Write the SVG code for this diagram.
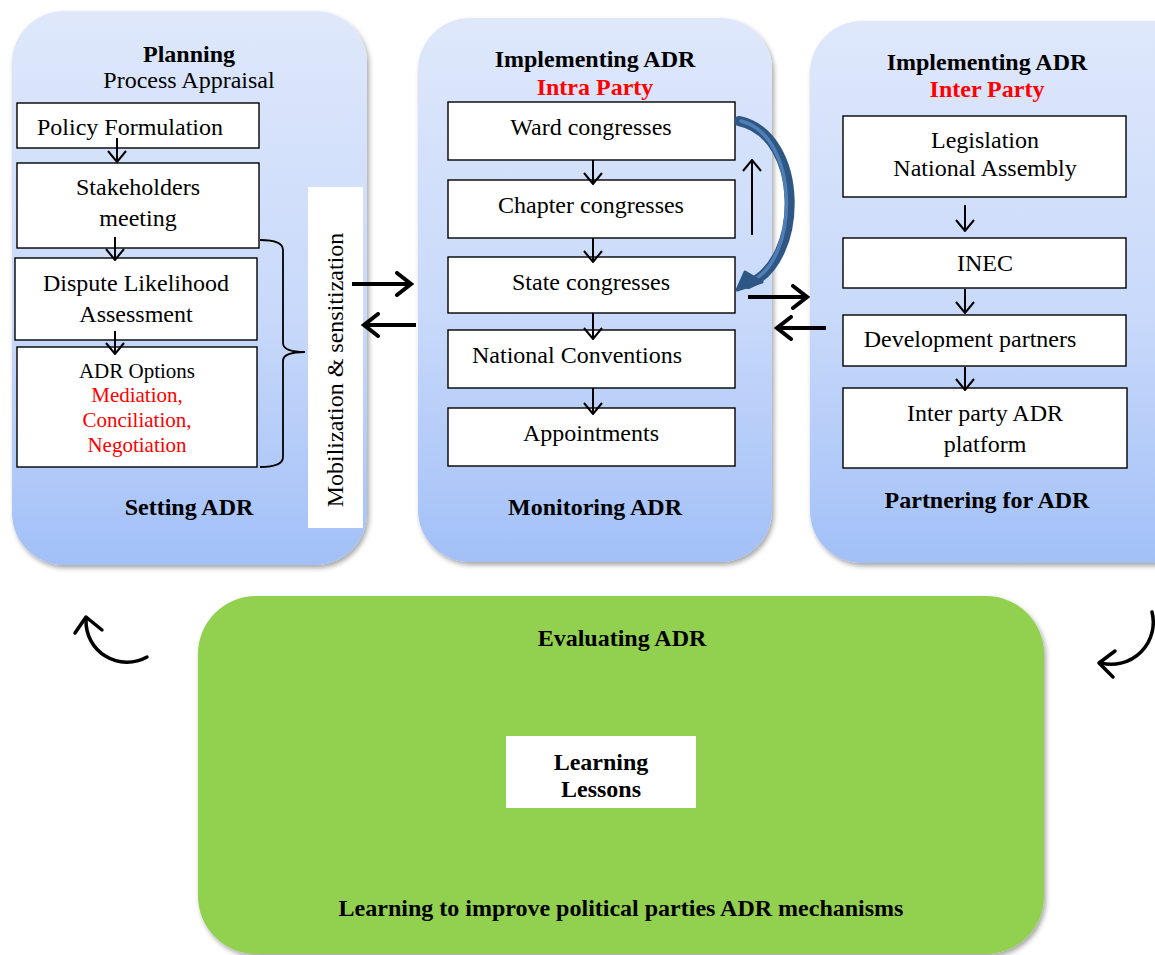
<svg xmlns="http://www.w3.org/2000/svg" width="1155" height="955" viewBox="0 0 1155 955">
  <defs>
    <linearGradient id="panelFill" x1="0" y1="0" x2="0" y2="1">
      <stop offset="0" stop-color="#dfe8fb"/>
      <stop offset="0.55" stop-color="#c8d9fa"/>
      <stop offset="1" stop-color="#a2c0f7"/>
    </linearGradient>
    <filter id="shadow" x="-5%" y="-5%" width="112%" height="112%">
      <feDropShadow dx="2" dy="3" stdDeviation="2.5" flood-color="#000" flood-opacity="0.35"/>
    </filter>
    <marker id="vhead" viewBox="0 0 13 20" refX="12" refY="10" markerWidth="13" markerHeight="20" markerUnits="userSpaceOnUse" orient="auto">
      <path d="M1,1 L12,10 L1,19" fill="none" stroke="#000" stroke-width="2"/>
    </marker>
    <marker id="bighead" viewBox="0 0 20 26" refX="18" refY="13" markerWidth="20" markerHeight="26" markerUnits="userSpaceOnUse" orient="auto">
      <path d="M3,2 L17,13 L3,24" fill="none" stroke="#000" stroke-width="4" stroke-linecap="round"/>
    </marker>
  </defs>
  <style>
    text { font-family: "Liberation Serif", "Times New Roman", serif; fill: #000; text-anchor: middle; }
    .t { font-size: 24px; }
    .s { font-size: 21px; }
    .b { font-size: 24px; font-weight: bold; }
    .red { fill: #ff0000; }
    .panel { fill: url(#panelFill); filter: url(#shadow); }
    .box { fill: #fff; stroke: #000; stroke-width: 1.4; }
    .flow { fill: none; stroke: #000; stroke-width: 2; marker-end: url(#vhead); }
    .thick { fill: none; stroke: #000; stroke-width: 4; marker-end: url(#bighead); }
    .cycle { fill: none; stroke: #000; stroke-width: 3.5; stroke-linecap: round; stroke-linejoin: round; }
  </style>

  <rect width="1155" height="955" fill="#fff"/>

  <!-- Planning panel -->
  <g id="planning">
    <rect class="panel" x="12" y="11" width="355" height="554" rx="52"/>
    <text class="b" x="189" y="62">Planning</text>
    <text class="t" x="189" y="88">Process Appraisal</text>
    <text class="b" x="189" y="515">Setting ADR</text>
  </g>
  <g id="policy-formulation">
    <rect class="box" x="17" y="103" width="242" height="45"/>
    <text class="t" x="130" y="135">Policy Formulation</text>
  </g>
  <g id="stakeholders-meeting">
    <rect class="box" x="17" y="163" width="242" height="85"/>
    <text class="t" x="138" y="195">Stakeholders</text>
    <text class="t" x="138" y="226">meeting</text>
  </g>
  <g id="dispute-likelihood">
    <rect class="box" x="15" y="258" width="242" height="82"/>
    <text class="t" x="136" y="291">Dispute Likelihood</text>
    <text class="t" x="136" y="322">Assessment</text>
  </g>
  <g id="adr-options">
    <rect class="box" x="17" y="347" width="240" height="120"/>
    <text class="s" x="137" y="378">ADR Options</text>
    <text class="s red" x="137" y="402">Mediation,</text>
    <text class="s red" x="137" y="427">Conciliation,</text>
    <text class="s red" x="137" y="452">Negotiation</text>
  </g>
  <g id="mobilization">
    <rect x="308" y="187" width="55" height="341" fill="#fff"/>
    <text class="t" transform="translate(343,370) rotate(-90)">Mobilization &amp; sensitization</text>
  </g>

  <!-- Intra party panel -->
  <g id="intra-party">
    <rect class="panel" x="418" y="18" width="354" height="544" rx="52"/>
    <text class="b" x="595" y="67">Implementing ADR</text>
    <text class="b red" x="595" y="95">Intra Party</text>
    <text class="b" x="595" y="515">Monitoring ADR</text>
  </g>
  <g id="ward-congresses">
    <rect class="box" x="448" y="102" width="287" height="58"/>
    <text class="t" x="591" y="135">Ward congresses</text>
  </g>
  <g id="chapter-congresses">
    <rect class="box" x="448" y="180" width="287" height="58"/>
    <text class="t" x="591" y="213">Chapter congresses</text>
  </g>
  <g id="state-congresses">
    <rect class="box" x="448" y="257" width="287" height="56"/>
    <text class="t" x="591" y="290">State congresses</text>
  </g>
  <g id="national-conventions">
    <rect class="box" x="448" y="330" width="287" height="58"/>
    <text class="t" x="577" y="363">National Conventions</text>
  </g>
  <g id="appointments">
    <rect class="box" x="448" y="408" width="287" height="58"/>
    <text class="t" x="591" y="441">Appointments</text>
  </g>

  <!-- Inter party panel -->
  <g id="inter-party">
    <rect class="panel" x="810" y="21" width="400" height="542" rx="52"/>
    <text class="b" x="987" y="70">Implementing ADR</text>
    <text class="b red" x="987" y="97">Inter Party</text>
    <text class="b" x="987" y="508">Partnering for ADR</text>
  </g>
  <g id="legislation">
    <rect class="box" x="843" y="116" width="283" height="81"/>
    <text class="t" x="985" y="148">Legislation</text>
    <text class="t" x="985" y="176">National Assembly</text>
  </g>
  <g id="inec">
    <rect class="box" x="843" y="238" width="283" height="50"/>
    <text class="t" x="985" y="271">INEC</text>
  </g>
  <g id="development-partners">
    <rect class="box" x="843" y="315" width="283" height="51"/>
    <text class="t" x="970" y="347">Development partners</text>
  </g>
  <g id="inter-party-platform">
    <rect class="box" x="843" y="388" width="284" height="80"/>
    <text class="t" x="985" y="421">Inter party ADR</text>
    <text class="t" x="985" y="452">platform</text>
  </g>

  <!-- Evaluation panel -->
  <g id="evaluating">
    <rect x="198" y="596" width="846" height="358" rx="58" fill="#92d050" filter="url(#shadow)"/>
    <text class="b" x="622" y="646">Evaluating ADR</text>
    <text class="b" x="621" y="916">Learning to improve political parties ADR mechanisms</text>
  </g>
  <g id="learning-lessons">
    <rect x="506" y="736" width="190" height="72" fill="#fff"/>
    <text class="b" x="601" y="770">Learning</text>
    <text class="b" x="601" y="797">Lessons</text>
  </g>

  <!-- Connectors -->
  <g id="connectors">
    <!-- planning steps -->
    <line class="flow" x1="117" y1="138" x2="117" y2="162"/>
    <line class="flow" x1="115" y1="237" x2="115" y2="260"/>
    <line class="flow" x1="115" y1="331" x2="115" y2="354"/>
    <!-- brace grouping the lower steps -->
    <path d="M260,240 Q283,240 283,250 L283,343 Q283,352 305,352 Q283,352 283,361 L283,457 Q283,467 260,467" fill="none" stroke="#000" stroke-width="1.8"/>

    <!-- intra party steps -->
    <line class="flow" x1="593" y1="160" x2="593" y2="184"/>
    <line class="flow" x1="593" y1="238" x2="593" y2="262"/>
    <line class="flow" x1="593" y1="313" x2="593" y2="339"/>
    <line class="flow" x1="593" y1="388" x2="593" y2="414"/>
    <line class="flow" x1="752" y1="235" x2="752" y2="160"/>
    <!-- feedback loop from ward to state level -->
    <path d="M739,121 C805,135 805,262 748,284" fill="none" stroke="#2f5785" stroke-width="10" stroke-linecap="round"/>
    <path d="M741,121 C800,136 800,260 750,282" fill="none" stroke="#4f7fb5" stroke-width="3.5" stroke-linecap="round"/>
    <path d="M737,290 L745,272 L762,282 Z" fill="#2f5785" stroke="#2f5785" stroke-width="3" stroke-linejoin="round"/>

    <!-- inter party steps -->
    <line class="flow" x1="965" y1="205" x2="965" y2="231"/>
    <line class="flow" x1="965" y1="289" x2="965" y2="313"/>
    <line class="flow" x1="965" y1="367" x2="965" y2="390"/>

    <!-- exchanges between panels -->
    <line class="thick" x1="352" y1="284" x2="412" y2="284"/>
    <line class="thick" x1="416" y1="325" x2="363" y2="325"/>
    <line class="thick" x1="748" y1="297" x2="808" y2="297"/>
    <line class="thick" x1="826" y1="328" x2="776" y2="328"/>

    <!-- cycle arrows -->
    <path class="cycle" d="M147,657 A41,41 0 0 1 86,620"/>
    <path class="cycle" d="M75,633 L86,617 L102,630"/>
    <path class="cycle" d="M1152,612 A42,42 0 0 1 1101,663"/>
    <path class="cycle" d="M1115,651 L1099,663 L1113,677"/>
  </g>
</svg>
